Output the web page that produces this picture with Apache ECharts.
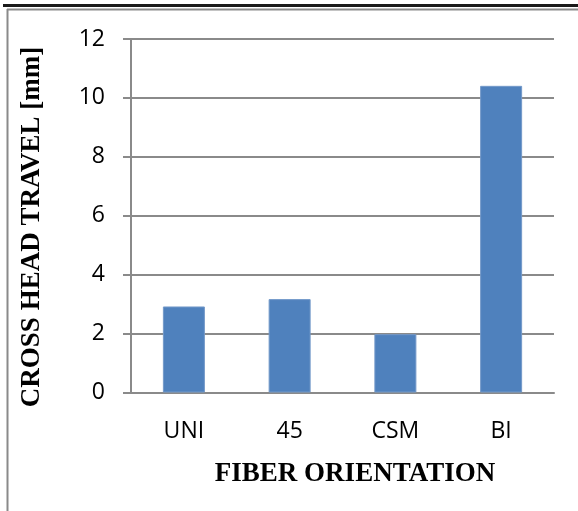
<!DOCTYPE html>
<html>
<head>
<meta charset="utf-8">
<script src="https://cdn.jsdelivr.net/npm/echarts@6/dist/echarts.min.js"></script>
<style>
  html, body { margin: 0; padding: 0; background: #fff; }
  #chart { width: 578px; height: 511px; }
</style>
</head>
<body>
<div id="chart"></div>
<script>
// Cross head travel by fiber orientation
const categories = ['UNI', '45', 'CSM', 'BI'];
const travelValues = [2.92, 3.17, 1.98, 10.41];
const yTicks = [0, 2, 4, 6, 8, 10, 12];

const gray = '#8a8a8a';
const chart = echarts.init(document.getElementById('chart'));

chart.setOption({
  animation: false,
  backgroundColor: '#fff',
  grid: { left: 131, right: 24, top: 39, bottom: 118.5, containLabel: false },
  xAxis: {
    type: 'category',
    data: categories,
    axisLine: { show: true, lineStyle: { color: gray, width: 2 } },
    axisTick: { show: false },
    axisLabel: {
      margin: 27,
      color: '#000',
      fontFamily: 'Open Sans',
      fontSize: 23
    }
  },
  yAxis: {
    type: 'value',
    min: yTicks[0],
    max: yTicks[yTicks.length - 1],
    interval: 2,
    axisLine: { show: true, lineStyle: { color: gray, width: 2 } },
    axisTick: { show: true, length: 8, lineStyle: { color: gray, width: 2 } },
    splitLine: { show: true, lineStyle: { color: gray, width: 2 } },
    axisLabel: {
      margin: 26,
      color: '#000',
      fontFamily: 'Open Sans',
      fontSize: 23
    }
  },
  series: [{
    type: 'bar',
    data: travelValues,
    barWidth: 42,
    itemStyle: { color: '#4f81bd', borderColor: '#7399c9', borderWidth: 1 }
  }],
  graphic: [
    // page rules and frame
    { type: 'rect', shape: { x: 3, y: 4, width: 575, height: 3 }, style: { fill: '#1a1a1a' }, silent: true },
    { type: 'line', shape: { x1: 7, y1: 9.5, x2: 578, y2: 9.5 }, style: { stroke: gray, lineWidth: 2 }, silent: true },
    { type: 'line', shape: { x1: 7.5, y1: 9, x2: 7.5, y2: 511 }, style: { stroke: gray, lineWidth: 2 }, silent: true },
    // axis titles
    {
      type: 'text', x: 355, y: 474,
      style: {
        text: 'FIBER ORIENTATION', fill: '#000',
        font: 'bold 27px "Liberation Serif"',
        align: 'center', verticalAlign: 'middle'
      }
    },
    {
      type: 'text', x: 32, y: 227, rotation: Math.PI / 2,
      style: {
        text: 'CROSS HEAD TRAVEL [mm]', fill: '#000',
        font: 'bold 27px "Liberation Serif"',
        align: 'center', verticalAlign: 'middle'
      }
    }
  ]
});
</script>
</body>
</html>
